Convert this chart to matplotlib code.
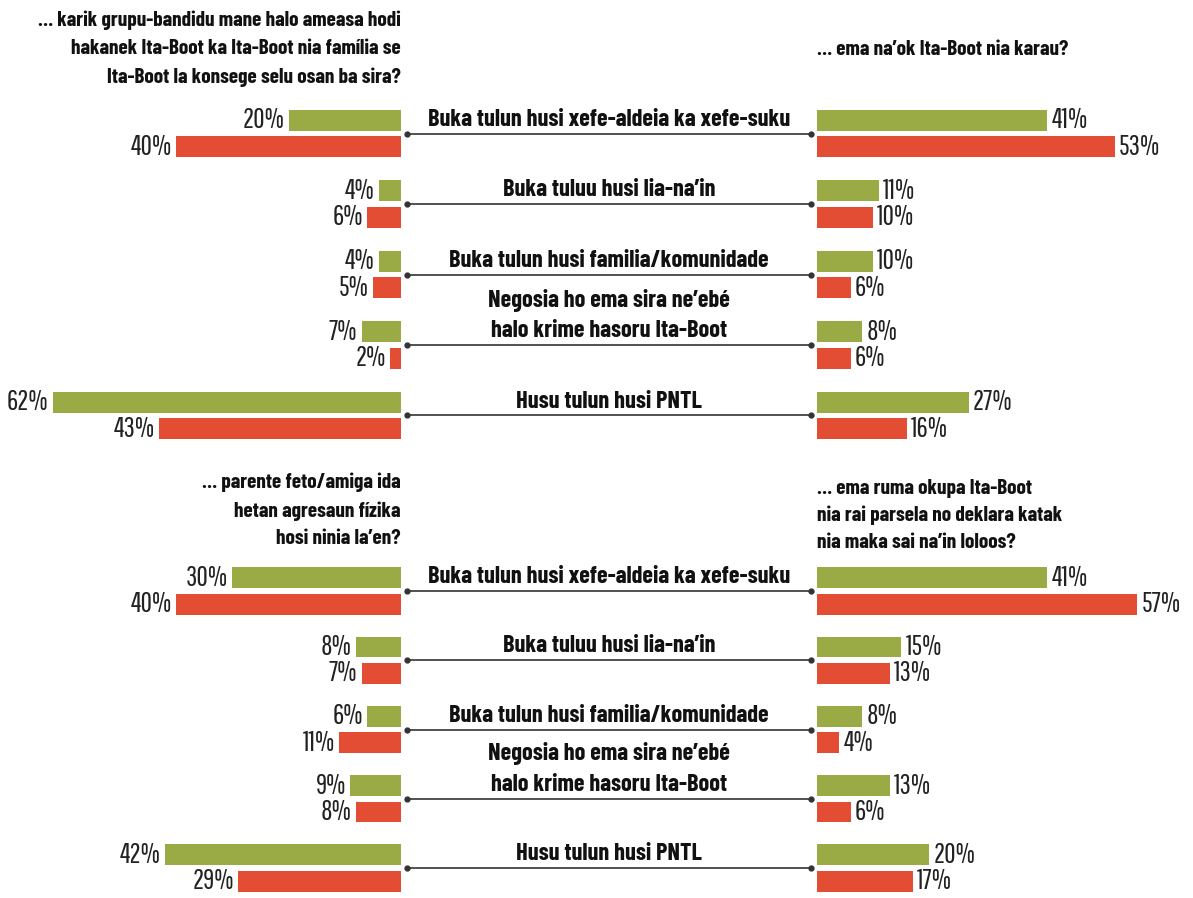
import matplotlib
matplotlib.use("Agg")
import matplotlib.pyplot as plt

categories = [
    "Buka tulun husi xefe-aldeia ka xefe-suku",
    "Buka tuluu husi lia-na\u2019in",
    "Buka tulun husi familia/komunidade",
    "Negosia ho ema sira ne\u2019eb\u00e9\nhalo krime hasoru Ita-Boot",
    "Husu tulun husi PNTL",
]

# top panel
top_left_title = "\u2026 karik grupu-bandidu mane halo ameasa hodi\nhakanek Ita-Boot ka Ita-Boot nia fam\u00edlia se\nIta-Boot la konsege selu osan ba sira?"
top_right_title = "\u2026 ema na\u2019ok Ita-Boot nia karau?"
top_left_green = [20, 4, 4, 7, 62]
top_left_red = [40, 6, 5, 2, 43]
top_right_green = [41, 11, 10, 8, 27]
top_right_red = [53, 10, 6, 6, 16]

# bottom panel
bot_left_title = "\u2026 parente feto/amiga ida\nhetan agresaun f\u00edzika\nhosi ninia la\u2019en?"
bot_right_title = "\u2026 ema ruma okupa Ita-Boot\nnia rai parsela no deklara katak\nnia maka sai na\u2019in loloos?"
bot_left_green = [30, 8, 6, 9, 42]
bot_left_red = [40, 7, 11, 8, 29]
bot_right_green = [41, 15, 8, 13, 20]
bot_right_red = [57, 13, 4, 6, 17]

GREEN = "#9aaa45"
RED = "#e24d34"
BOLD_FAM = ["Barlow Condensed", "DejaVu Sans"]
NUM_FAM = ["Pathway Gothic One", "Barlow Condensed", "DejaVu Sans"]

W, H = 1193, 898
fig = plt.figure(figsize=(W / 100, H / 100), dpi=100)


def px_axes(x0, x1, ytop, ybot):
    return fig.add_axes([x0 / W, 1 - ybot / H, (x1 - x0) / W, (ybot - ytop) / H])


def panel(ytop, ybot, lg, lr, rg, rr):
    n = len(categories)
    ys = list(range(n))
    off, bh = 0.19, 0.30
    axl = px_axes(0, 401, ytop, ybot)
    axr = px_axes(817, 1193, ytop, ybot)
    axm = px_axes(401, 817, ytop, ybot)
    for ax in (axl, axr, axm):
        ax.set_ylim(n - 0.5, -0.5)
        ax.axis("off")
    axl.set_xlim(401 / 5.62, 0)
    axr.set_xlim(0, 376 / 5.62)
    axm.set_xlim(0, 1)

    gy = [y - off for y in ys]
    ry = [y + off for y in ys]
    axl.barh(gy, lg, height=bh, color=GREEN)
    axl.barh(ry, lr, height=bh, color=RED)
    axr.barh(gy, rg, height=bh, color=GREEN)
    axr.barh(ry, rr, height=bh, color=RED)

    for vals, yy, ax, side in ((lg, gy, axl, -1), (lr, ry, axl, -1),
                               (rg, gy, axr, 1), (rr, ry, axr, 1)):
        for v, y in zip(vals, yy):
            ax.annotate(f"{v}%", (v, y), xytext=(side * 3, 0),
                        textcoords="offset points",
                        ha="right" if side < 0 else "left", va="center",
                        fontsize=20, family=NUM_FAM, color="#222222")

    for y, lab in zip(ys, categories):
        axm.plot([0.015, 0.985], [y, y], color="#333333", lw=1.2,
                 marker="o", ms=3.5, clip_on=False)
        axm.annotate(lab, (0.5, y), xytext=(0, 2), textcoords="offset points",
                     ha="center", va="bottom", fontsize=17.5, family=BOLD_FAM,
                     fontweight="bold", color="#111111", linespacing=1.5)


panel(98.25, 450.75, top_left_green, top_left_red, top_right_green, top_right_red)
panel(556.4, 902.6, bot_left_green, bot_left_red, bot_right_green, bot_right_red)

tkw = dict(fontsize=15.3, family=BOLD_FAM, fontweight="bold", color="#111111",
           va="top")
fig.text(401 / W, 1 - 10 / H, top_left_title, ha="right", linespacing=1.62, **tkw)
fig.text(817 / W, 1 - 40 / H, top_right_title, ha="left", linespacing=1.52, **tkw)
fig.text(401 / W, 1 - 473 / H, bot_left_title, ha="right", linespacing=1.55, **tkw)
fig.text(817 / W, 1 - 479 / H, bot_right_title, ha="left", linespacing=1.5, **tkw)

fig.savefig("out.png", dpi=100, facecolor="white")
